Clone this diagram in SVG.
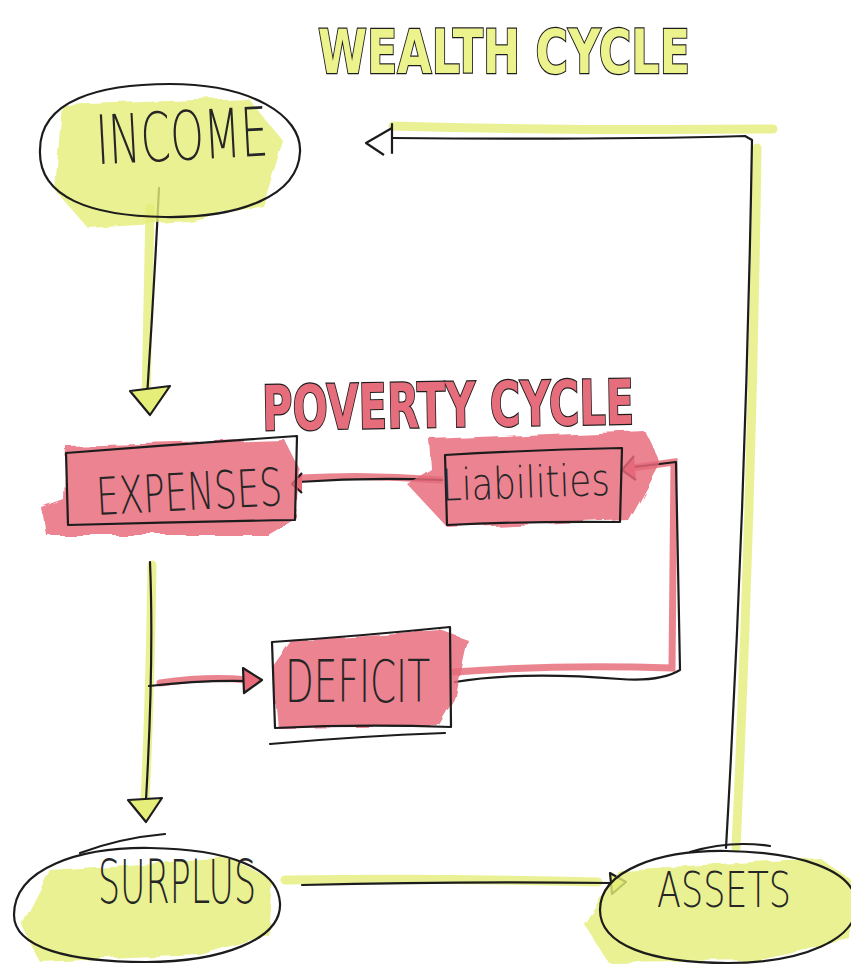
<svg xmlns="http://www.w3.org/2000/svg" width="851" height="969" viewBox="0 0 851 969">
  <defs>
    <style>
      .ink { fill: none; stroke: #1c1c1c; stroke-width: 2.2; stroke-linecap: round; stroke-linejoin: round; }
      .hl-y { fill: #e5ee78; opacity: 0.8; }
      .hl-p { fill: #e7697a; opacity: 0.82; }
      .stripe-y { fill: none; stroke: #e8f08a; stroke-width: 9; stroke-linecap: round; opacity: 0.9; }
      .stripe-p { fill: none; stroke: #e6707c; stroke-width: 7; stroke-linecap: round; opacity: 0.85; }
      .head { stroke: #1c1c1c; stroke-width: 2.2; stroke-linejoin: round; }
      .label { font-family: "DejaVu Sans ExtraLight", "DejaVu Sans", "Liberation Sans", sans-serif; fill: #262626; font-weight: 200; }
      .title { font-family: "DejaVu Sans", "Liberation Sans", sans-serif; font-weight: bold; stroke: #1c1c1c; stroke-width: 2.4; paint-order: stroke; }
    </style>
    <filter id="rough" x="-5%" y="-5%" width="110%" height="110%">
      <feTurbulence type="fractalNoise" baseFrequency="0.035" numOctaves="2" seed="4"/>
      <feDisplacementMap in="SourceGraphic" scale="9"/>
    </filter>
  </defs>

  <rect width="851" height="969" fill="#ffffff"/>

  <!-- titles -->
  <g id="wealth-title">
    <text class="title" x="318" y="73" font-size="60" fill="#ecf28c" textLength="372" lengthAdjust="spacingAndGlyphs">WEALTH CYCLE</text>
  </g>
  <g id="poverty-title">
    <text class="title" x="262" y="427" font-size="62" fill="#e66d7b" textLength="372" lengthAdjust="spacingAndGlyphs" transform="rotate(-1 448 400)">POVERTY CYCLE</text>
  </g>

  <!-- connectors -->
  <g id="connectors">
    <!-- income -> expenses -->
    <path class="stripe-y" d="M150 208 L146 400"/>
    <path class="ink" d="M159 188 Q154 290 147 397"/>
    <path class="head" fill="#e5ee78" d="M130 391 L170 386 L150 415 Z"/>

    <!-- liabilities -> expenses -->
    <path class="stripe-p" d="M300 478 Q370 474 440 480"/>
    <path class="ink" d="M298 482 Q370 477 442 480"/>
    <path class="head" fill="#e7697a" d="M302 473 L292 484 L302 493"/>

    <!-- expenses -> surplus -->
    <path class="stripe-y" d="M152 565 Q150 700 145 800"/>
    <path class="ink" d="M150 562 Q154 660 146 800"/>
    <path class="head" fill="#e5ee78" d="M128 800 L162 798 L146 822 Z"/>

    <!-- expenses -> deficit -->
    <path class="stripe-p" d="M160 683 Q210 676 246 680"/>
    <path class="ink" d="M149 686 Q200 680 247 681"/>
    <path class="head" fill="#e7697a" d="M243 668 L262 680 L244 693 Z"/>

    <!-- deficit -> liabilities -->
    <path class="stripe-p" d="M455 672 Q560 664 672 668 L674 462 L632 468"/>
    <path class="ink" d="M455 682 Q520 671 620 679 Q660 682 680 670 L676 462 L634 467"/>
    <path class="head" fill="#e7697a" d="M634 456 L622 470 L636 480"/>

    <!-- surplus -> assets -->
    <path class="stripe-y" d="M285 880 Q450 878 598 882"/>
    <path class="ink" d="M302 885 Q460 881 612 883"/>
    <path class="head" fill="#e5ee78" d="M610 873 L626 882 L612 894 Z"/>

    <!-- assets -> income -->
    <path class="stripe-y" d="M736 848 Q752 500 757 148"/>
    <path class="stripe-y" d="M393 126 Q580 131 773 129"/>
    <path class="ink" d="M726 848 Q746 500 752 140 L745 136 Q600 140 392 138"/>
    <path class="ink" d="M392 124 L392 153"/>
    <path class="head" fill="none" d="M392 128 L366 143 L384 155"/>
  </g>

  <!-- income -->
  <g id="income">
    <path class="hl-y" filter="url(#rough)" d="M62 105 L248 98 L282 140 L262 205 L190 222 L88 228 L55 190 Z"/>
    <path class="ink" d="M40 150 C40 100 100 84 170 84 C250 84 302 115 300 152 C298 196 240 218 165 217 C92 216 38 198 40 150 Z"/>
    <text class="label" x="96" y="160" font-size="68" textLength="172" lengthAdjust="spacingAndGlyphs" transform="rotate(-3 180 140)">INCOME</text>
  </g>

  <!-- expenses -->
  <g id="expenses">
    <path class="hl-p" filter="url(#rough)" d="M66 446 L285 440 L300 470 L297 518 L268 535 L46 535 L42 508 L64 500 Z"/>
    <path class="ink" d="M66 453 Q180 444 297 436 L295 520 Q180 522 68 525 Z"/>
    <text class="label" x="96" y="510" font-size="52" textLength="186" lengthAdjust="spacingAndGlyphs" transform="rotate(-3 190 490)">EXPENSES</text>
  </g>

  <!-- liabilities -->
  <g id="liabilities">
    <path class="hl-p" filter="url(#rough)" d="M430 440 L645 431 L660 462 L628 520 L448 528 L408 485 L432 470 Z"/>
    <path class="ink" d="M445 455 Q530 450 622 448 L620 522 Q530 521 447 525 Z"/>
    <text class="label" x="442" y="498" font-size="44" textLength="168" lengthAdjust="spacingAndGlyphs" transform="rotate(-2 520 490)">Liabilities</text>
  </g>

  <!-- deficit -->
  <g id="deficit">
    <path class="hl-p" filter="url(#rough)" d="M290 640 L440 630 L468 640 L455 700 L440 726 L278 728 L272 665 Z"/>
    <path class="ink" d="M272 642 Q360 636 450 627 L451 727 Q360 724 275 728 Z"/>
    <path class="ink" d="M270 744 Q360 736 445 733"/>
    <text class="label" x="285" y="702" font-size="58" textLength="145" lengthAdjust="spacingAndGlyphs">DEFICIT</text>
  </g>

  <!-- surplus -->
  <g id="surplus">
    <path class="hl-y" filter="url(#rough)" d="M50 870 L232 858 L272 880 L268 935 L200 955 L40 962 L22 925 Z"/>
    <path class="ink" d="M14 915 C14 868 80 847 150 848 C228 849 278 868 280 903 C282 940 220 962 146 962 C70 962 14 948 14 915 Z"/>
    <path class="ink" d="M80 853 Q120 838 165 834"/>
    <text class="label" x="98" y="903" font-size="60" textLength="158" lengthAdjust="spacingAndGlyphs">SURPLUS</text>
  </g>

  <!-- assets -->
  <g id="assets">
    <path class="hl-y" filter="url(#rough)" d="M620 870 L820 858 L851 880 L851 940 L760 960 L608 962 L585 925 Z"/>
    <path class="ink" d="M600 910 C600 870 660 850 726 851 C800 852 851 870 856 900 C862 940 800 963 728 963 C650 963 600 945 600 910 Z"/>
    <path class="ink" d="M690 852 Q730 840 770 846"/>
    <text class="label" x="657" y="907" font-size="50" textLength="134" lengthAdjust="spacingAndGlyphs">ASSETS</text>
  </g>
</svg>
